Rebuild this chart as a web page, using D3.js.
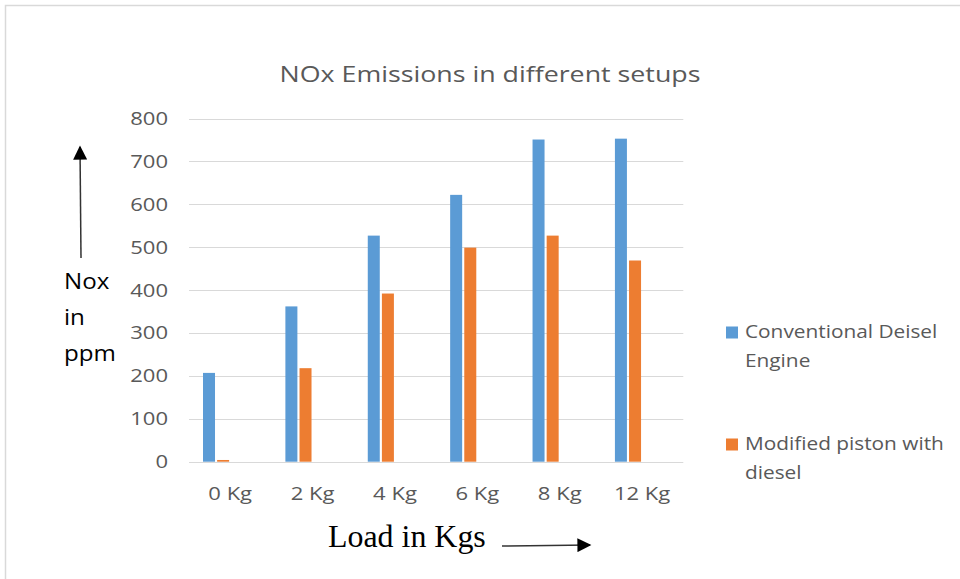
<!DOCTYPE html>
<html>
<head>
<meta charset="utf-8">
<script src="https://cdn.jsdelivr.net/npm/d3@7"></script>
<style>
  html, body { margin: 0; padding: 0; background: #fff; }
  svg { display: block; }
</style>
</head>
<body>
<svg id="chart" width="960" height="579"></svg>
<script>
const categories = ["0 Kg", "2 Kg", "4 Kg", "6 Kg", "8 Kg", "12 Kg"];
const seriesNames = ["Conventional Deisel Engine", "Modified piston with diesel"];
const conventional = [207, 362, 527, 622, 751, 753];
const modified = [4, 218, 392, 499, 527, 469];
const yTicks = [0, 100, 200, 300, 400, 500, 600, 700, 800];
const legendLines = [["Conventional Deisel", "Engine"], ["Modified piston with", "diesel"]];
const titleText = "NOx Emissions in different setups";
const yTitleLines = ["Nox", "in", "ppm"];
const xTitleText = "Load in Kgs";

const colors = ["#5B9BD5", "#ED7D31"];
const seriesValues = [conventional, modified];
const font = "'Open Sans', sans-serif";
const stretch = 1.19; // source text is horizontally widened

const svg = d3.select("#chart");

// Outer chart frame
svg.append("rect")
  .attr("x", 5.5).attr("y", 5.5)
  .attr("width", 1200).attr("height", 1200)
  .attr("fill", "none").attr("stroke", "#d9d9d9").attr("stroke-width", 1.5);

const plotLeft = 189, plotRight = 683.3, plotTop = 118.5, plotBottom = 461.7;

const x0 = d3.scaleBand().domain(categories).range([plotLeft, plotRight])
  .paddingInner(0.34).paddingOuter(0.17);
// four slots per category (as in the source chart); the two series fill the first two
const slotCount = 4;
const x1 = d3.scaleBand().domain(d3.range(slotCount)).range([0, x0.bandwidth()]).paddingInner(0.15);
const y = d3.scaleLinear().domain([0, 800]).range([plotBottom, plotTop]);

// gridlines
svg.append("g").selectAll("line").data(yTicks).join("line")
  .attr("x1", plotLeft).attr("x2", plotRight)
  .attr("y1", d => Math.round(y(d)) + 0.5).attr("y2", d => Math.round(y(d)) + 0.5)
  .attr("stroke", "#d9d9d9").attr("stroke-width", 1);

// y axis labels
const yAxis = d3.axisLeft(y).tickValues(yTicks).tickSize(0).tickPadding(0);
const yg = svg.append("g").attr("transform", `translate(${168},0)`).call(yAxis);
yg.select(".domain").remove();
yg.selectAll("text").attr("font-family", font).attr("font-size", 18.5).attr("fill", "#595959")
  .attr("x", 0).attr("transform", `scale(${stretch},1)`);

// x axis labels
const xAxis = d3.axisBottom(d3.scaleBand().domain(categories).range([plotLeft, plotRight])).tickSize(0).tickPadding(0);
const xg = svg.append("g").attr("transform", `translate(0,${487})`).call(xAxis);
xg.select(".domain").remove();
xg.selectAll("text").attr("font-family", font).attr("font-size", 18.5).attr("fill", "#595959")
  .attr("y", 0).attr("transform", `scale(${stretch},1)`);

// bars
seriesValues.forEach((vals, si) => {
  svg.append("g").selectAll("rect").data(vals).join("rect")
    .attr("x", (d, i) => x0(categories[i]) + x1(si))
    .attr("width", x1.bandwidth())
    .attr("y", d => y(d))
    .attr("height", d => y(0) - y(d))
    .attr("fill", colors[si]);
});

// title
svg.append("text").attr("transform", `translate(490,82) scale(${stretch},1)`).attr("text-anchor", "middle")
  .attr("font-family", font).attr("font-size", 22.5).attr("fill", "#595959").text(titleText);

// legend
const legendY = [338, 450];
legendLines.forEach((lines, i) => {
  svg.append("rect").attr("x", 726).attr("y", legendY[i] - 11.5).attr("width", 12).attr("height", 12).attr("fill", colors[i]);
  const t = svg.append("text").attr("transform", `translate(745,0) scale(${stretch},1)`)
    .attr("font-family", font).attr("font-size", 17.5).attr("fill", "#595959");
  lines.forEach((l, j) => t.append("tspan").attr("x", 0).attr("y", legendY[i] + j * 29).text(l));
});

// y title with arrow
const yt = svg.append("text").attr("transform", `translate(64,0) scale(1.15,1)`)
  .attr("font-family", font).attr("font-size", 21).attr("fill", "#000");
yTitleLines.forEach((l, j) => yt.append("tspan").attr("x", 0).attr("y", 289 + j * 36).text(l));

const defs = svg.append("defs");
const ah2 = defs.append("marker").attr("id", "ah2").attr("viewBox", "0 0 10 10").attr("refX", 9).attr("refY", 5)
  .attr("markerWidth", 16).attr("markerHeight", 14).attr("markerUnits", "userSpaceOnUse").attr("orient", "auto");
ah2.append("path").attr("d", "M0,0 L10,5 L0,10 Z").attr("fill", "#000");

svg.append("line").attr("x1", 81).attr("y1", 258).attr("x2", 80).attr("y2", 147)
  .attr("stroke", "#333").attr("stroke-width", 1.5).attr("marker-end", "url(#ah2)");

// x title with arrow
svg.append("text").attr("transform", "translate(328,547) scale(1.03,1)")
  .attr("font-family", "'Liberation Serif', 'Times New Roman', serif")
  .attr("font-size", 31).attr("fill", "#000").text(xTitleText);
svg.append("line").attr("x1", 502).attr("y1", 546).attr("x2", 590).attr("y2", 545)
  .attr("stroke", "#333").attr("stroke-width", 1.5).attr("marker-end", "url(#ah2)");
</script>
</body>
</html>
